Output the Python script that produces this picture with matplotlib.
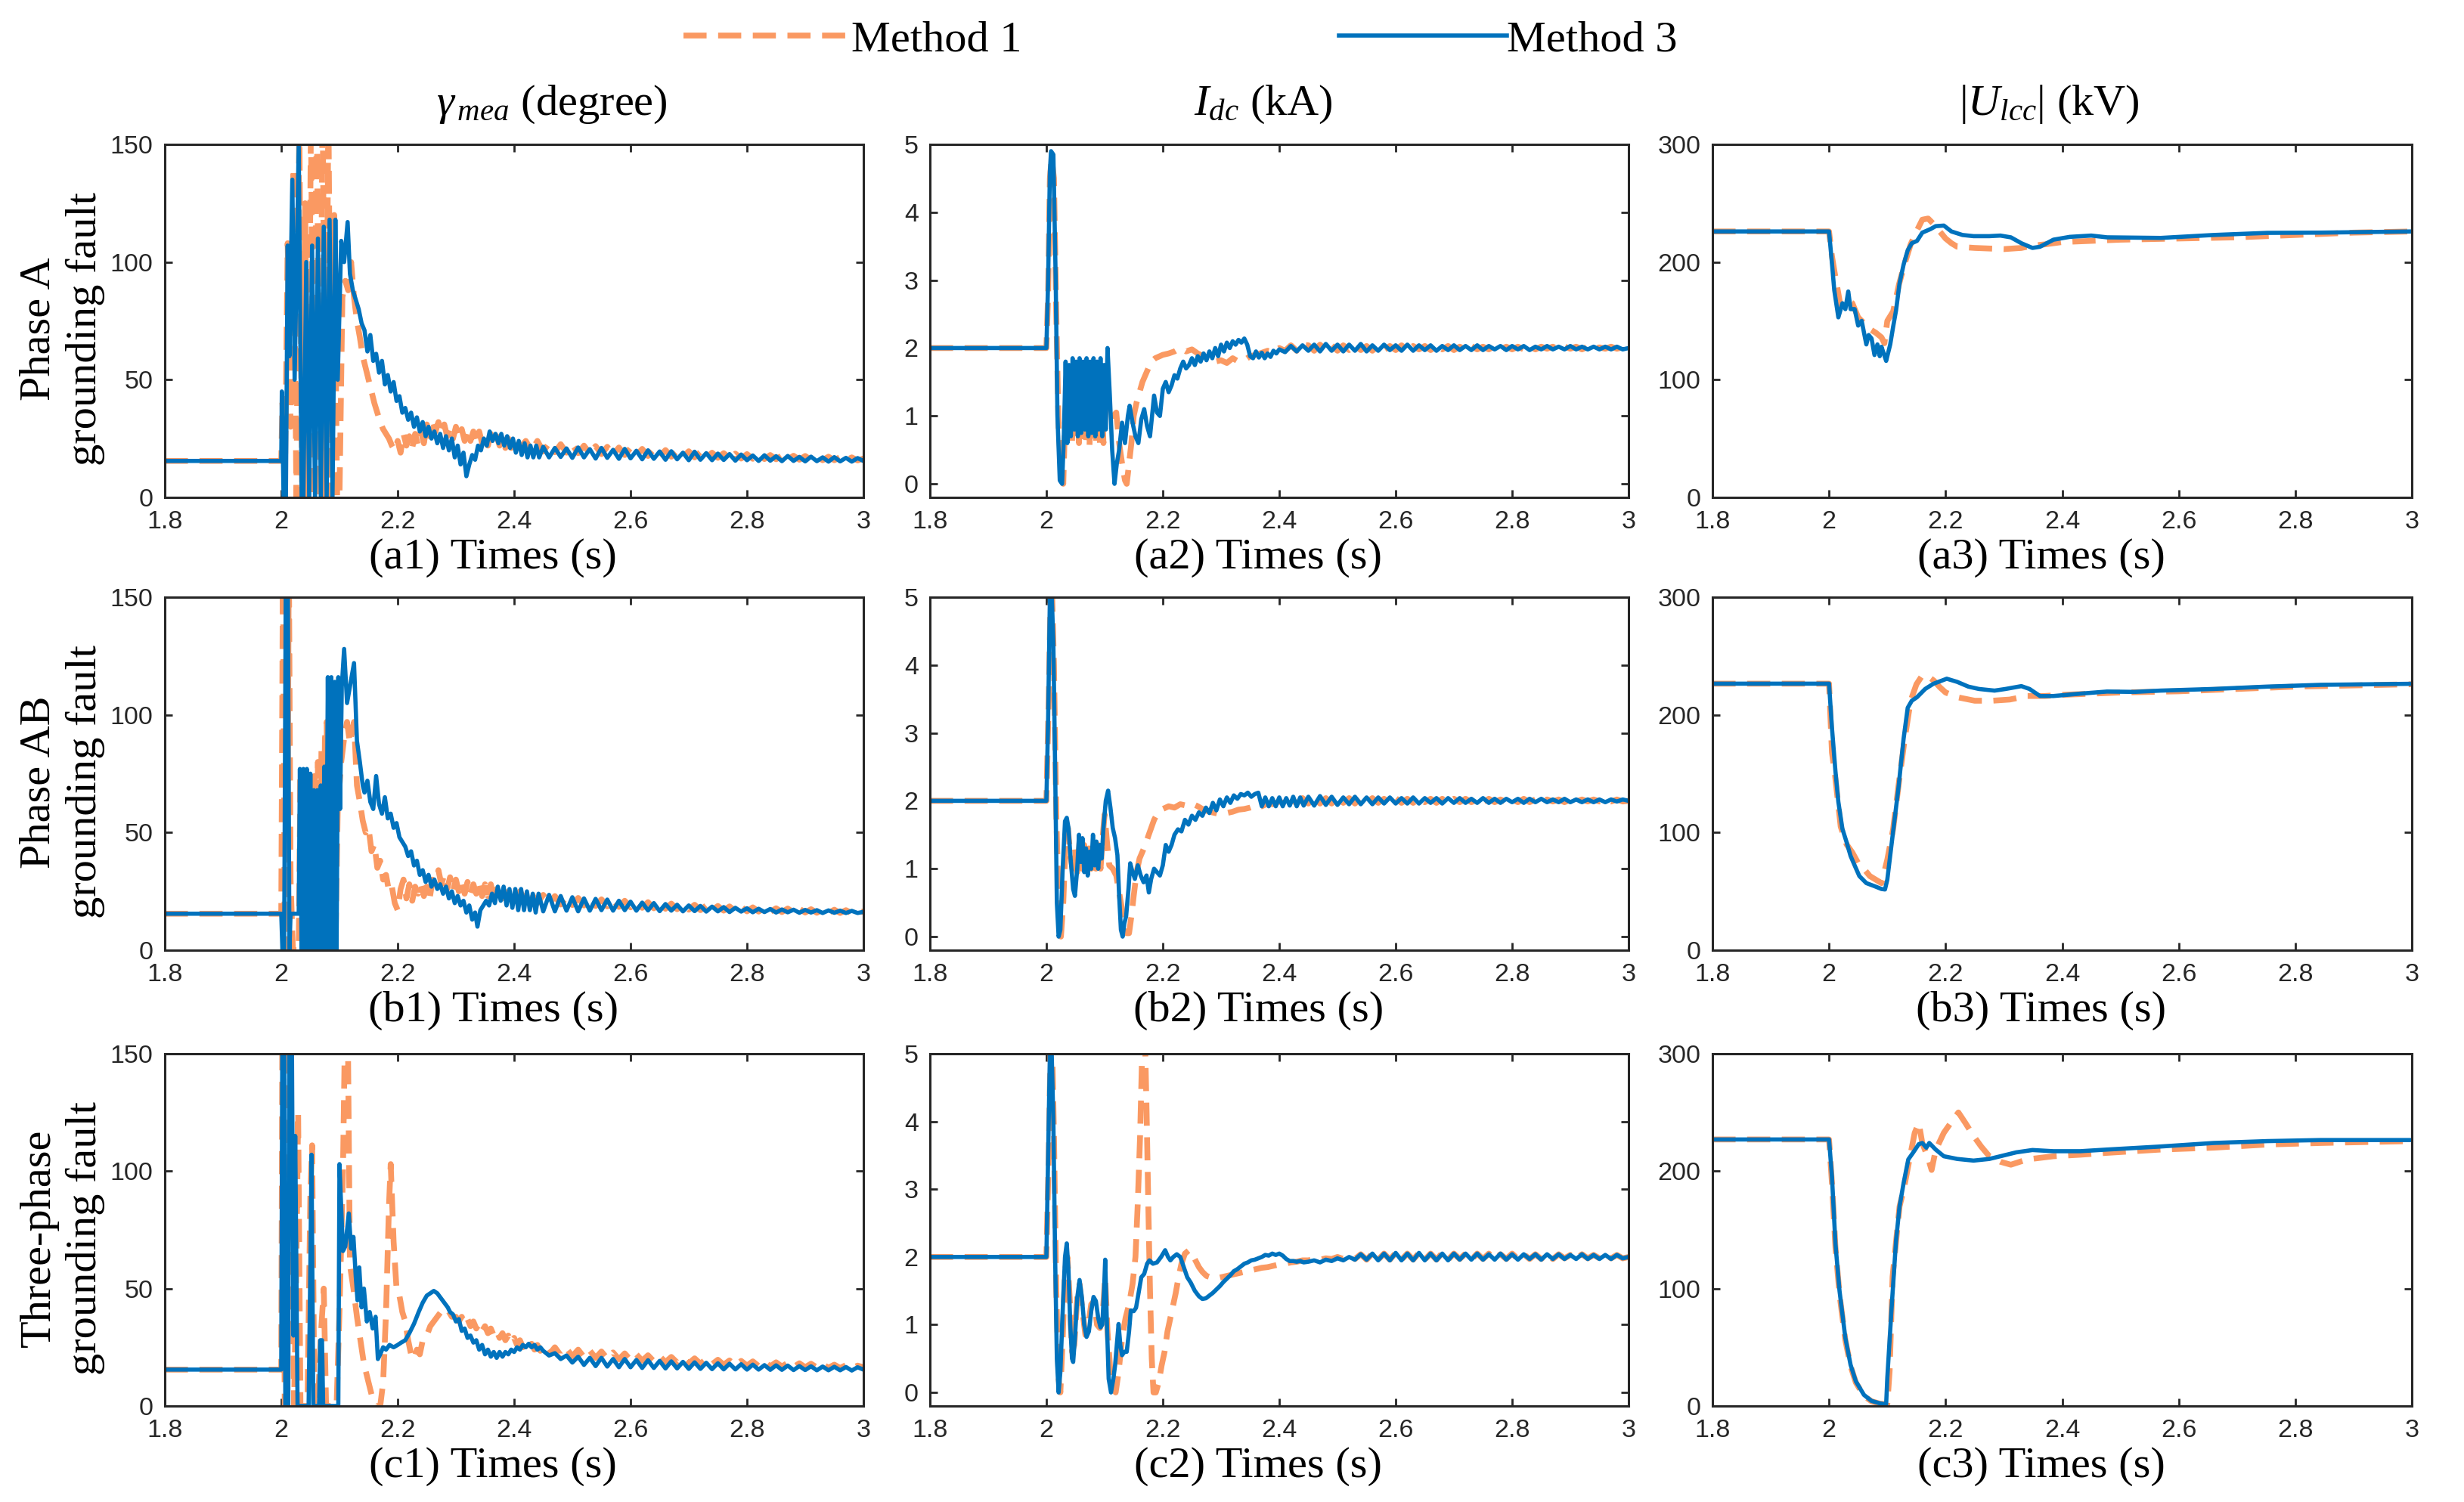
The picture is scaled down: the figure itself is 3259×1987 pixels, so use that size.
import numpy as np
import matplotlib
matplotlib.use('Agg')
import matplotlib.pyplot as plt

# =============================================================================
# DATA
# =============================================================================
T_TAIL = [2.45, 2.46, 2.47, 2.48, 2.49, 2.50, 2.51, 2.52,
          2.53, 2.54, 2.55, 2.56, 2.57, 2.58, 2.59, 2.60,
          2.61, 2.62, 2.63, 2.64, 2.65, 2.66, 2.67, 2.68,
          2.69, 2.70, 2.71, 2.72, 2.73, 2.74, 2.75, 2.76,
          2.77, 2.78, 2.79, 2.80, 2.81, 2.82, 2.83, 2.84,
          2.85, 2.86, 2.87, 2.88, 2.89, 2.90, 2.91, 2.92,
          2.93, 2.94, 2.95, 2.96, 2.97, 2.98, 2.99, 3.00]

# ---- (a) Phase A grounding fault ----
A1_M1 = [(1.8, 15.5), (2.0, 15.5), (2.002, 40), (2.006, 0), (2.011, 108), (2.016, 30),
         (2.021, 140), (2.026, 0), (2.031, 160), (2.036, 0), (2.041, 125), (2.046, 0),
         (2.051, 160), (2.056, 0), (2.061, 170), (2.066, 0), (2.071, 170), (2.076, 0),
         (2.081, 165), (2.086, 0), (2.091, 120), (2.096, 0), (2.100, 0), (2.105, 85),
         (2.110, 92), (2.115, 88), (2.120, 100), (2.125, 85), (2.130, 75), (2.135, 68),
         (2.140, 60), (2.145, 55), (2.150, 50), (2.155, 45), (2.160, 40), (2.165, 36),
         (2.170, 32), (2.175, 29), (2.180, 27), (2.185, 25), (2.190, 22), (2.195, 20),
         (2.200, 24), (2.205, 19), (2.210, 27), (2.215, 22), (2.220, 26), (2.225, 21),
         (2.230, 27), (2.235, 22), (2.240, 28), (2.245, 23), (2.250, 31), (2.255, 26),
         (2.260, 33), (2.265, 28), (2.270, 32), (2.275, 27), (2.280, 31), (2.285, 26),
         (2.290, 30), (2.295, 25), (2.300, 30), (2.305, 25), (2.310, 29), (2.315, 24),
         (2.320, 29), (2.325, 24), (2.330, 28), (2.335, 23), (2.340, 28), (2.345, 23),
         (2.350, 27), (2.355, 22), (2.360, 27), (2.365, 22), (2.370, 26), (2.375, 22),
         (2.380, 26), (2.385, 21), (2.390, 25), (2.395, 21), (2.400, 25), (2.410, 21),
         (2.420, 24), (2.430, 20), (2.440, 24)]
A1_M1_TAIL = [19.5, 23.0, 19.2, 22.6, 19.0, 22.4, 18.8, 22.0,
              18.6, 21.8, 18.4, 21.5, 18.2, 21.2, 18.0, 21.0,
              17.8, 20.6, 17.6, 20.4, 17.5, 20.1, 17.3, 19.8,
              17.2, 19.6, 17.0, 19.3, 16.9, 19.0, 16.8, 18.8,
              16.6, 18.6, 16.5, 18.4, 16.4, 18.2, 16.3, 18.0,
              16.2, 17.8, 16.1, 17.7, 16.0, 17.6, 15.9, 17.4,
              15.8, 17.3, 15.8, 17.1, 15.7, 17.0, 15.7, 16.5]
A1_M3 = [(1.8, 15.5), (2.0, 15.5), (2.001, 45), (2.004, 0), (2.008, 0), (2.011, 107),
         (2.014, 60), (2.019, 135), (2.023, 50), (2.030, 150), (2.035, 0), (2.038, 0),
         (2.043, 100), (2.048, 0), (2.053, 107), (2.058, 0), (2.063, 110), (2.068, 0),
         (2.073, 115), (2.078, 0), (2.083, 118), (2.088, 0), (2.093, 118), (2.097, 50),
         (2.103, 109), (2.108, 100), (2.114, 117), (2.118, 95), (2.123, 88), (2.128, 84),
         (2.133, 80), (2.138, 74), (2.143, 71), (2.148, 62), (2.153, 69), (2.158, 58),
         (2.163, 61), (2.168, 53), (2.173, 58), (2.178, 48), (2.183, 52), (2.188, 45),
         (2.193, 49), (2.198, 41), (2.203, 43), (2.208, 36), (2.213, 38), (2.218, 33),
         (2.223, 36), (2.228, 30), (2.233, 34), (2.238, 28), (2.243, 32), (2.248, 26),
         (2.253, 30), (2.258, 25), (2.263, 28), (2.268, 23), (2.273, 27), (2.278, 21),
         (2.283, 26), (2.288, 20), (2.293, 25), (2.298, 17), (2.303, 22), (2.308, 14),
         (2.313, 19), (2.318, 9), (2.323, 14), (2.328, 18), (2.333, 16), (2.338, 22),
         (2.343, 20), (2.348, 25), (2.353, 22), (2.358, 28), (2.363, 24), (2.368, 27),
         (2.373, 23), (2.378, 27), (2.383, 22), (2.388, 26), (2.393, 21), (2.398, 25),
         (2.403, 19), (2.408, 24), (2.413, 18), (2.418, 23), (2.423, 17), (2.428, 22),
         (2.433, 17), (2.438, 22), (2.443, 17)]
A1_M3_TAIL = [21.5, 17.0, 21.0, 17.2, 20.8, 16.8, 21.2, 17.0,
              20.5, 16.5, 21.0, 16.8, 20.2, 16.4, 20.6, 16.6,
              19.8, 16.2, 20.0, 16.4, 19.5, 16.0, 19.6, 16.2,
              19.0, 15.8, 19.4, 16.0, 18.8, 15.8, 18.6, 15.9,
              18.4, 15.6, 18.2, 15.8, 17.8, 15.5, 17.9, 15.6,
              17.5, 15.4, 17.6, 15.5, 17.2, 15.3, 17.3, 15.4,
              17.0, 15.2, 17.1, 15.3, 16.8, 15.2, 16.7, 15.5]

A2_M1 = [(1.8, 2.0), (2.0, 2.0), (2.003, 2.8), (2.006, 4.5), (2.009, 4.8), (2.013, 4.5),
         (2.017, 2.5), (2.021, 0.8), (2.025, 0.3), (2.029, 0.0), (2.032, 0.9), (2.035, 1.4),
         (2.038, 0.7), (2.041, 1.3), (2.044, 0.6), (2.047, 1.35), (2.050, 0.65), (2.053, 1.3),
         (2.056, 0.6), (2.059, 1.4), (2.062, 0.7), (2.065, 1.3), (2.068, 0.6), (2.071, 1.35),
         (2.074, 0.55), (2.077, 1.3), (2.080, 0.6), (2.083, 1.35), (2.086, 0.55), (2.089, 1.3),
         (2.092, 0.6), (2.095, 1.35), (2.098, 0.6), (2.102, 1.1), (2.106, 1.05), (2.110, 1.1),
         (2.115, 1.0), (2.120, 1.05), (2.125, 0.6), (2.130, 0.3), (2.135, 0.05), (2.138, 0.0),
         (2.142, 0.3), (2.146, 0.6), (2.150, 1.0), (2.155, 1.2), (2.160, 1.35), (2.165, 1.5),
         (2.170, 1.6), (2.175, 1.7), (2.180, 1.8), (2.187, 1.85), (2.195, 1.88), (2.200, 1.9),
         (2.210, 1.92), (2.220, 1.95), (2.230, 2.0), (2.240, 1.95), (2.250, 1.98), (2.260, 1.92),
         (2.270, 1.88), (2.280, 1.84), (2.290, 1.80), (2.300, 1.82), (2.310, 1.78), (2.320, 1.85),
         (2.330, 1.80), (2.340, 1.82), (2.350, 1.88), (2.360, 1.90), (2.370, 1.93), (2.380, 1.96),
         (2.390, 1.94), (2.400, 2.0), (2.410, 1.96), (2.420, 2.04), (2.430, 1.96), (2.440, 2.05)]
A2_M1_TAIL = [2.04, 1.96, 2.05, 1.97, 2.04, 1.96, 2.04, 1.97,
              2.04, 1.97, 2.03, 1.96, 2.04, 1.97, 2.03, 1.97,
              2.04, 1.97, 2.03, 1.98, 2.03, 1.97, 2.03, 1.98,
              2.03, 1.97, 2.02, 1.98, 2.03, 1.98, 2.02, 1.98,
              2.03, 1.98, 2.02, 1.98, 2.02, 1.98, 2.03, 1.98,
              2.02, 1.99, 2.02, 1.98, 2.02, 1.99, 2.02, 1.98,
              2.02, 1.99, 2.01, 1.99, 2.02, 1.99, 2.01, 2.00]
A2_M3 = [(1.8, 2.0), (2.0, 2.0), (2.003, 3.0), (2.006, 4.6), (2.008, 4.9), (2.012, 4.85),
         (2.016, 3.0), (2.019, 1.0), (2.023, 0.05), (2.027, 0.0), (2.030, 0.7), (2.033, 1.8),
         (2.036, 0.6), (2.039, 1.75), (2.042, 0.7), (2.045, 1.85), (2.048, 0.8), (2.051, 1.8),
         (2.054, 0.7), (2.057, 1.85), (2.060, 0.75), (2.063, 1.8), (2.066, 0.8), (2.069, 1.85),
         (2.072, 0.7), (2.075, 1.8), (2.078, 0.75), (2.081, 1.85), (2.084, 0.7), (2.087, 1.8),
         (2.090, 0.8), (2.093, 1.85), (2.096, 0.7), (2.099, 1.75), (2.102, 0.8), (2.105, 2.0),
         (2.109, 1.3), (2.113, 0.5), (2.117, 0.0), (2.121, 0.3), (2.125, 0.5), (2.130, 0.9),
         (2.135, 0.6), (2.140, 1.0), (2.143, 1.15), (2.148, 0.9), (2.153, 0.7), (2.158, 0.6),
         (2.163, 0.95), (2.168, 1.1), (2.173, 0.85), (2.178, 0.7), (2.185, 1.3), (2.190, 1.05),
         (2.195, 1.0), (2.200, 1.4), (2.205, 1.5), (2.210, 1.35), (2.215, 1.45), (2.220, 1.6),
         (2.225, 1.55), (2.230, 1.7), (2.235, 1.8), (2.240, 1.7), (2.245, 1.75), (2.250, 1.85),
         (2.255, 1.75), (2.260, 1.88), (2.265, 1.8), (2.270, 1.92), (2.275, 1.82), (2.280, 1.95),
         (2.285, 1.85), (2.290, 2.0), (2.295, 1.88), (2.300, 2.05), (2.305, 1.95), (2.310, 2.08),
         (2.315, 2.0), (2.320, 2.1), (2.325, 2.05), (2.330, 2.12), (2.335, 2.08), (2.340, 2.14),
         (2.345, 2.05), (2.350, 1.88), (2.355, 1.85), (2.360, 1.95), (2.365, 1.86), (2.370, 1.93),
         (2.375, 1.85), (2.380, 1.92), (2.385, 1.87), (2.390, 1.96), (2.395, 1.92), (2.400, 1.98),
         (2.410, 1.94), (2.420, 2.03), (2.430, 1.95), (2.440, 2.04)]
A2_M3_TAIL = [1.96, 2.05, 1.95, 2.06, 1.96, 2.05, 1.95, 2.05,
              1.96, 2.06, 1.95, 2.04, 1.96, 2.05, 1.97, 2.04,
              1.96, 2.05, 1.96, 2.04, 1.97, 2.04, 1.96, 2.03,
              1.97, 2.04, 1.97, 2.03, 1.97, 2.04, 1.97, 2.03,
              1.98, 2.03, 1.97, 2.03, 1.98, 2.03, 1.97, 2.02,
              1.98, 2.03, 1.98, 2.02, 1.98, 2.03, 1.98, 2.02,
              1.98, 2.02, 1.98, 2.02, 1.98, 2.02, 1.98, 2.00]

A3_M1 = [(1.8, 226), (2.0, 226), (2.005, 205), (2.01, 190), (2.02, 162), (2.03, 168),
         (2.04, 165), (2.05, 153), (2.06, 148), (2.07, 143), (2.08, 140), (2.09, 136),
         (2.095, 131), (2.1, 150), (2.11, 158), (2.12, 181), (2.13, 199), (2.14, 215),
         (2.15, 226), (2.16, 236), (2.17, 237), (2.18, 232), (2.19, 226), (2.2, 220),
         (2.21, 216), (2.22, 213), (2.25, 212), (2.3, 211), (2.33, 212), (2.35, 214),
         (2.37, 215), (2.4, 217), (2.45, 218), (2.5, 219), (2.6, 220), (2.7, 221),
         (2.8, 223), (2.9, 225), (3.0, 226)]
A3_M3 = [(1.8, 226), (2.0, 226), (2.005, 199), (2.009, 176), (2.016, 153), (2.023, 165),
         (2.028, 160), (2.033, 175), (2.037, 160), (2.044, 160), (2.05, 146), (2.056, 150),
         (2.06, 140), (2.064, 130), (2.068, 138), (2.073, 135), (2.078, 121), (2.083, 130),
         (2.087, 120), (2.09, 128), (2.094, 122), (2.098, 116), (2.105, 130), (2.11, 145),
         (2.115, 159), (2.121, 182), (2.128, 198), (2.135, 210), (2.142, 216), (2.151, 218),
         (2.16, 225), (2.174, 228), (2.183, 230.5), (2.197, 231), (2.21, 226), (2.229, 223),
         (2.248, 222), (2.275, 222), (2.294, 222.5), (2.312, 221), (2.33, 216), (2.349, 212),
         (2.362, 213), (2.385, 219), (2.413, 221.4), (2.45, 222.5), (2.477, 221),
         (2.569, 220.5), (2.66, 223), (2.752, 224.8), (2.844, 225), (3.0, 226)]

# ---- (b) Phase AB grounding fault ----
B1_M1 = [(1.8, 15.5), (2.0, 15.5), (2.003, 170), (2.006, 0), (2.010, 0), (2.013, 170),
         (2.016, 30), (2.020, 0), (2.030, 0), (2.033, 75), (2.036, 0), (2.039, 72),
         (2.042, 0), (2.045, 70), (2.048, 0), (2.051, 72), (2.054, 0), (2.057, 74),
         (2.060, 0), (2.063, 80), (2.066, 0), (2.069, 85), (2.072, 0), (2.075, 90),
         (2.078, 97), (2.081, 0), (2.085, 80), (2.089, 0), (2.093, 0), (2.097, 60),
         (2.103, 80), (2.108, 90), (2.113, 97), (2.118, 88), (2.125, 97), (2.130, 70),
         (2.135, 63), (2.140, 55), (2.145, 50), (2.150, 52), (2.155, 42), (2.160, 45),
         (2.165, 35), (2.170, 38), (2.175, 30), (2.180, 32), (2.185, 25), (2.190, 27),
         (2.195, 20), (2.200, 17), (2.205, 26), (2.210, 30), (2.215, 22), (2.220, 28),
         (2.225, 21), (2.230, 27), (2.235, 24), (2.240, 28), (2.245, 23), (2.250, 27),
         (2.255, 22), (2.260, 30), (2.265, 28), (2.270, 34), (2.275, 28), (2.280, 32),
         (2.285, 26), (2.290, 31), (2.295, 25), (2.300, 30), (2.305, 25), (2.310, 29),
         (2.315, 24), (2.320, 29), (2.325, 24), (2.330, 28), (2.335, 24), (2.340, 29),
         (2.345, 23), (2.350, 28), (2.355, 23), (2.360, 28), (2.365, 22), (2.370, 26),
         (2.380, 22), (2.390, 26), (2.400, 21), (2.410, 25), (2.420, 21), (2.430, 24),
         (2.440, 20)]
B1_M1_TAIL = [23.5, 19.5, 23.0, 19.4, 22.6, 19.2, 22.2, 19.0,
              22.0, 18.8, 21.6, 18.6, 21.3, 18.4, 21.0, 18.2,
              20.7, 18.0, 20.4, 17.8, 20.1, 17.6, 19.8, 17.4,
              19.6, 17.2, 19.3, 17.0, 19.0, 16.9, 18.8, 16.8,
              18.6, 16.6, 18.4, 16.5, 18.2, 16.4, 18.0, 16.3,
              17.8, 16.2, 17.7, 16.1, 17.6, 16.0, 17.4, 15.9,
              17.3, 15.8, 17.2, 15.8, 17.0, 15.7, 16.9, 16.2]
B1_M3 = [(1.8, 15.5), (2.0, 15.5), (2.002, 0), (2.005, 0), (2.008, 170), (2.011, 170),
         (2.014, 0), (2.016, 15.5), (2.030, 15.5), (2.032, 77), (2.035, 0), (2.038, 77),
         (2.041, 0), (2.044, 77), (2.047, 0), (2.050, 75), (2.053, 0), (2.056, 68),
         (2.059, 0), (2.062, 68), (2.065, 0), (2.068, 70), (2.071, 0), (2.074, 78),
         (2.077, 0), (2.080, 116), (2.083, 0), (2.086, 116), (2.089, 0), (2.092, 114),
         (2.095, 0), (2.098, 116), (2.101, 60), (2.104, 112), (2.108, 128), (2.113, 105),
         (2.118, 112), (2.125, 122), (2.130, 89), (2.135, 80), (2.140, 70), (2.143, 67),
         (2.148, 72), (2.153, 63), (2.158, 60), (2.163, 74), (2.168, 62), (2.173, 58),
         (2.178, 65), (2.183, 56), (2.188, 58), (2.193, 52), (2.198, 54), (2.203, 48),
         (2.208, 46), (2.213, 44), (2.218, 40), (2.223, 42), (2.228, 36), (2.233, 38),
         (2.238, 32), (2.243, 34), (2.248, 29), (2.253, 32), (2.258, 27), (2.263, 30),
         (2.268, 26), (2.273, 28), (2.278, 24), (2.283, 27), (2.288, 22), (2.293, 25),
         (2.298, 20), (2.303, 23), (2.308, 19), (2.313, 21), (2.318, 16), (2.323, 19),
         (2.328, 13), (2.333, 16), (2.337, 10), (2.342, 17), (2.347, 19), (2.352, 21),
         (2.357, 19), (2.362, 24), (2.367, 20), (2.372, 27), (2.377, 21), (2.382, 27),
         (2.387, 19), (2.392, 26), (2.397, 18), (2.402, 26), (2.407, 17), (2.412, 26),
         (2.417, 17), (2.422, 25), (2.427, 17), (2.432, 24), (2.437, 16), (2.442, 24)]
B1_M3_TAIL = [16.5, 23.5, 16.5, 23.0, 16.8, 22.5, 16.5, 22.0,
              16.8, 21.8, 17.0, 21.5, 16.8, 21.0, 17.0, 20.6,
              16.8, 20.2, 16.9, 20.0, 16.6, 19.6, 16.8, 19.3,
              16.5, 19.0, 16.6, 18.8, 16.4, 18.5, 16.5, 18.3,
              16.2, 18.0, 16.4, 17.8, 16.1, 17.6, 16.2, 17.5,
              16.0, 17.3, 16.1, 17.2, 15.9, 17.1, 16.0, 17.0,
              15.8, 16.9, 15.9, 16.8, 15.8, 16.7, 15.8, 16.3]

B2_M1 = [(1.8, 2.0), (2.0, 2.0), (2.004, 3.5), (2.007, 4.9), (2.010, 5.0), (2.013, 4.0),
         (2.017, 1.8), (2.021, 0.5), (2.025, 0.0), (2.029, 0.5), (2.033, 1.4), (2.037, 1.6),
         (2.041, 1.2), (2.045, 1.0), (2.049, 1.3), (2.053, 0.95), (2.057, 1.4), (2.061, 1.0),
         (2.065, 1.35), (2.069, 0.95), (2.073, 1.3), (2.077, 1.0), (2.081, 1.4), (2.085, 1.0),
         (2.089, 1.35), (2.093, 1.0), (2.097, 1.5), (2.100, 1.8), (2.104, 1.4), (2.108, 1.05),
         (2.114, 1.0), (2.120, 0.9), (2.126, 0.6), (2.132, 0.3), (2.138, 0.05), (2.142, 0.05),
         (2.146, 0.3), (2.150, 0.6), (2.155, 0.95), (2.160, 1.15), (2.165, 1.25), (2.170, 1.35),
         (2.175, 1.48), (2.180, 1.6), (2.185, 1.72), (2.190, 1.8), (2.195, 1.85), (2.200, 1.88),
         (2.210, 1.92), (2.220, 1.9), (2.230, 1.95), (2.240, 1.93), (2.250, 1.96), (2.260, 1.92),
         (2.270, 1.87), (2.280, 1.84), (2.290, 1.82), (2.300, 1.8), (2.310, 1.82), (2.320, 1.84),
         (2.330, 1.87), (2.340, 1.88), (2.350, 1.9), (2.360, 1.93), (2.370, 1.92), (2.380, 1.96),
         (2.390, 1.95), (2.400, 1.99), (2.410, 1.96), (2.420, 2.03), (2.430, 1.96), (2.440, 2.04)]
B2_M1_TAIL = [1.96, 2.05, 1.96, 2.04, 1.96, 2.05, 1.97, 2.04,
              1.96, 2.04, 1.97, 2.04, 1.97, 2.03, 1.97, 2.04,
              1.97, 2.03, 1.97, 2.03, 1.98, 2.03, 1.97, 2.03,
              1.98, 2.03, 1.98, 2.03, 1.98, 2.02, 1.98, 2.03,
              1.98, 2.02, 1.98, 2.02, 1.98, 2.03, 1.98, 2.02,
              1.98, 2.02, 1.99, 2.02, 1.98, 2.02, 1.99, 2.02,
              1.99, 2.02, 1.99, 2.01, 1.99, 2.02, 1.99, 2.00]
B2_M3 = [(1.8, 2.0), (2.0, 2.0), (2.003, 3.2), (2.006, 5.0), (2.009, 5.1), (2.012, 4.3),
         (2.015, 2.5), (2.018, 0.5), (2.021, 0.0), (2.024, 0.1), (2.028, 1.0), (2.032, 1.7),
         (2.035, 1.75), (2.038, 1.6), (2.042, 1.1), (2.046, 0.7), (2.049, 0.6), (2.053, 1.0),
         (2.056, 1.5), (2.059, 1.1), (2.062, 1.45), (2.065, 0.95), (2.068, 1.3), (2.071, 0.9),
         (2.074, 1.25), (2.077, 1.0), (2.080, 1.5), (2.083, 1.05), (2.086, 1.4), (2.089, 1.0),
         (2.092, 1.35), (2.095, 1.15), (2.098, 1.6), (2.102, 2.0), (2.106, 2.15), (2.110, 1.9),
         (2.114, 1.6), (2.118, 1.45), (2.122, 1.2), (2.125, 0.6), (2.128, 0.1), (2.131, 0.0),
         (2.134, 0.2), (2.137, 0.3), (2.141, 0.7), (2.144, 1.08), (2.148, 0.95), (2.152, 0.85),
         (2.157, 1.05), (2.162, 0.9), (2.167, 0.8), (2.172, 0.9), (2.176, 0.65), (2.180, 0.85),
         (2.185, 1.0), (2.190, 0.95), (2.195, 0.9), (2.200, 1.05), (2.205, 1.35), (2.210, 1.25),
         (2.215, 1.35), (2.220, 1.5), (2.226, 1.58), (2.232, 1.55), (2.238, 1.72), (2.244, 1.65),
         (2.250, 1.78), (2.256, 1.72), (2.262, 1.83), (2.268, 1.78), (2.274, 1.9), (2.280, 1.82),
         (2.286, 1.97), (2.292, 1.86), (2.298, 2.02), (2.304, 1.92), (2.310, 2.05), (2.316, 1.97),
         (2.322, 2.08), (2.328, 2.03), (2.334, 2.1), (2.340, 2.08), (2.346, 2.12), (2.352, 2.06),
         (2.358, 2.1), (2.364, 2.12), (2.370, 1.92), (2.376, 2.05), (2.382, 1.92), (2.388, 2.04),
         (2.394, 1.92), (2.400, 2.05), (2.406, 1.92), (2.412, 2.04), (2.418, 1.93), (2.424, 2.06),
         (2.430, 1.92), (2.436, 2.05), (2.442, 1.93)]
B2_M3_TAIL = [2.06, 1.93, 2.07, 1.94, 2.06, 1.94, 2.05, 1.95,
              2.06, 1.95, 2.05, 1.95, 2.05, 1.96, 2.05, 1.96,
              2.04, 1.96, 2.05, 1.96, 2.04, 1.97, 2.04, 1.96,
              2.04, 1.97, 2.04, 1.97, 2.03, 1.97, 2.04, 1.97,
              2.03, 1.97, 2.03, 1.98, 2.03, 1.97, 2.03, 1.98,
              2.03, 1.98, 2.02, 1.98, 2.03, 1.98, 2.02, 1.98,
              2.02, 1.98, 2.02, 1.98, 2.02, 1.99, 2.02, 2.00]

B3_M1 = [(1.8, 226.5), (2.0, 226.5), (2.005, 168), (2.01, 150), (2.02, 105), (2.03, 90),
         (2.04, 83), (2.05, 74), (2.06, 69), (2.07, 63), (2.08, 60), (2.09, 57),
         (2.1, 77), (2.11, 103), (2.12, 143), (2.13, 180), (2.14, 212), (2.15, 226),
         (2.16, 233.5), (2.17, 232.7), (2.18, 229), (2.19, 223.5), (2.2, 219), (2.22, 215),
         (2.25, 212), (2.28, 212), (2.31, 213), (2.34, 216), (2.37, 216), (2.4, 217),
         (2.45, 218), (2.5, 219), (2.6, 220), (2.7, 222), (2.8, 224), (2.9, 225), (3.0, 226)]
B3_M3 = [(1.8, 226.5), (2.0, 226.5), (2.005, 189), (2.011, 152), (2.016, 126), (2.023, 103),
         (2.03, 92), (2.037, 80), (2.044, 72), (2.052, 63), (2.064, 57), (2.078, 54.4),
         (2.09, 52), (2.096, 51.6), (2.1, 60), (2.109, 97), (2.119, 137.5), (2.128, 180),
         (2.135, 206), (2.142, 212), (2.151, 215), (2.165, 222), (2.179, 226.4), (2.193, 229),
         (2.202, 230.7), (2.22, 228), (2.239, 224), (2.257, 222), (2.284, 220.6), (2.303, 222),
         (2.33, 224.4), (2.344, 222), (2.362, 216), (2.385, 216), (2.431, 218), (2.477, 219.8),
         (2.523, 219.5), (2.569, 220.6), (2.66, 222), (2.752, 224), (2.844, 225.5), (3.0, 226.4)]

# ---- (c) Three-phase grounding fault ----
C1_M1 = [(1.8, 15.5), (2.0, 15.5), (2.002, 170), (2.006, 0), (2.009, 0), (2.013, 170),
         (2.018, 100), (2.022, 0), (2.026, 60), (2.029, 125), (2.033, 0), (2.045, 0),
         (2.050, 90), (2.053, 111), (2.057, 0), (2.063, 0), (2.068, 30), (2.073, 50),
         (2.077, 0), (2.095, 0), (2.100, 40), (2.106, 100), (2.110, 170), (2.114, 170),
         (2.118, 60), (2.124, 50), (2.130, 38), (2.136, 28), (2.142, 18), (2.148, 12),
         (2.155, 5), (2.162, 0), (2.170, 0), (2.175, 10), (2.180, 40), (2.185, 85),
         (2.188, 103), (2.193, 70), (2.198, 50), (2.203, 47), (2.208, 40), (2.213, 36),
         (2.218, 28), (2.223, 22), (2.228, 20), (2.233, 24), (2.238, 22), (2.243, 28),
         (2.250, 30), (2.256, 34), (2.262, 36), (2.268, 38), (2.274, 40), (2.280, 39),
         (2.287, 40.5), (2.293, 38), (2.300, 38), (2.305, 36), (2.310, 38), (2.315, 35),
         (2.320, 37), (2.325, 34), (2.330, 36), (2.335, 33), (2.340, 35), (2.345, 32),
         (2.350, 34), (2.355, 31), (2.360, 33), (2.365, 30), (2.370, 32), (2.375, 29),
         (2.380, 31), (2.385, 28), (2.390, 30), (2.395, 27), (2.400, 29), (2.405, 26),
         (2.410, 28), (2.415, 25), (2.420, 27), (2.425, 24.5), (2.430, 26.5), (2.435, 24),
         (2.440, 26), (2.445, 23.5)]
C1_M1_TAIL = [25.5, 22.0, 25.0, 21.6, 24.5, 21.2, 24.0, 20.8,
              23.6, 20.5, 23.2, 20.2, 22.8, 19.9, 22.4, 19.6,
              22.0, 19.3, 21.6, 19.0, 21.2, 18.7, 20.9, 18.5,
              20.6, 18.2, 20.3, 18.0, 20.0, 17.8, 19.7, 17.6,
              19.4, 17.4, 19.2, 17.2, 19.0, 17.0, 18.8, 16.9,
              18.6, 16.8, 18.4, 16.6, 18.2, 16.5, 18.0, 16.4,
              17.8, 16.3, 17.6, 16.2, 17.4, 16.1, 17.2, 16.5]
C1_M3 = [(1.8, 15.5), (2.0, 15.5), (2.002, 170), (2.005, 170), (2.007, 0), (2.012, 0),
         (2.014, 170), (2.018, 170), (2.021, 30), (2.024, 115), (2.028, 0), (2.047, 0),
         (2.050, 60), (2.052, 107), (2.055, 0), (2.065, 0), (2.067, 28), (2.070, 28),
         (2.072, 0), (2.098, 0), (2.100, 103), (2.106, 66), (2.110, 68), (2.116, 82),
         (2.120, 67), (2.124, 72), (2.128, 55), (2.131, 45), (2.134, 59), (2.138, 42),
         (2.142, 50), (2.147, 36), (2.152, 40), (2.157, 33), (2.162, 38), (2.166, 20),
         (2.170, 22), (2.175, 25), (2.180, 24), (2.186, 26), (2.193, 25), (2.200, 26),
         (2.206, 27), (2.213, 28), (2.220, 31), (2.228, 35), (2.236, 40), (2.243, 44),
         (2.250, 47), (2.256, 48), (2.262, 49), (2.268, 48), (2.274, 46), (2.280, 44),
         (2.286, 42), (2.290, 40), (2.295, 39), (2.300, 36), (2.305, 37), (2.310, 32),
         (2.315, 33), (2.320, 29), (2.325, 30), (2.330, 27), (2.335, 28), (2.340, 24),
         (2.345, 26), (2.350, 22), (2.355, 24), (2.360, 21), (2.365, 23), (2.370, 20.5),
         (2.375, 23), (2.380, 21), (2.385, 23), (2.390, 22), (2.395, 24), (2.400, 23),
         (2.405, 25), (2.410, 24), (2.415, 26), (2.420, 25), (2.425, 26.5), (2.430, 25),
         (2.435, 26), (2.440, 24), (2.445, 25)]
C1_M3_TAIL = [23.5, 21.5, 22.5, 20.0, 21.5, 18.5, 21.0, 17.5,
              20.5, 17.0, 20.5, 16.8, 20.0, 16.5, 20.0, 16.5,
              19.6, 16.2, 19.5, 16.2, 19.2, 16.0, 19.0, 16.0,
              18.8, 15.8, 18.6, 15.8, 18.4, 15.7, 18.2, 15.6,
              18.0, 15.6, 17.8, 15.5, 17.6, 15.5, 17.4, 15.4,
              17.3, 15.4, 17.2, 15.3, 17.0, 15.3, 16.9, 15.2,
              16.8, 15.2, 16.7, 15.2, 16.6, 15.1, 16.5, 15.5]

C2_M1 = [(1.8, 2.0), (2.0, 2.0), (2.004, 3.5), (2.007, 5.0), (2.010, 5.1), (2.013, 3.8),
         (2.017, 1.5), (2.021, 0.2), (2.024, 0.0), (2.028, 0.8), (2.032, 1.8), (2.036, 2.0),
         (2.040, 1.4), (2.044, 0.6), (2.048, 0.7), (2.053, 1.4), (2.057, 1.6), (2.062, 1.2),
         (2.067, 0.85), (2.072, 1.0), (2.077, 1.3), (2.082, 1.35), (2.087, 1.0), (2.092, 0.95),
         (2.097, 1.2), (2.101, 1.7), (2.105, 0.9), (2.110, 0.3), (2.115, 0.05), (2.119, 0.0),
         (2.124, 0.3), (2.130, 0.8), (2.136, 1.1), (2.142, 1.3), (2.148, 1.6), (2.153, 2.0),
         (2.157, 2.8), (2.161, 3.8), (2.165, 5.2), (2.169, 5.4), (2.172, 4.2), (2.175, 2.8),
         (2.178, 1.5), (2.181, 0.5), (2.184, 0.0), (2.188, 0.0), (2.193, 0.15), (2.198, 0.4),
         (2.203, 0.6), (2.208, 0.9), (2.213, 1.1), (2.218, 1.3), (2.222, 1.46), (2.227, 1.7),
         (2.232, 1.9), (2.238, 2.05), (2.245, 2.1), (2.250, 2.05), (2.256, 1.95), (2.262, 1.85),
         (2.268, 1.78), (2.275, 1.72), (2.282, 1.7), (2.290, 1.68), (2.300, 1.7), (2.310, 1.72),
         (2.320, 1.74), (2.330, 1.76), (2.340, 1.78), (2.350, 1.8), (2.360, 1.82), (2.370, 1.84),
         (2.380, 1.85), (2.390, 1.87), (2.400, 1.89), (2.410, 1.9), (2.420, 1.92), (2.430, 1.93),
         (2.440, 1.95)]
C2_M1_TAIL = [1.95, 1.97, 1.96, 1.98, 1.97, 2.00, 1.97, 2.02,
              1.97, 2.04, 1.96, 2.05, 1.96, 2.05, 1.96, 2.06,
              1.96, 2.05, 1.96, 2.06, 1.96, 2.05, 1.96, 2.06,
              1.96, 2.05, 1.97, 2.05, 1.96, 2.05, 1.97, 2.05,
              1.97, 2.04, 1.97, 2.05, 1.97, 2.04, 1.97, 2.04,
              1.97, 2.04, 1.97, 2.04, 1.98, 2.03, 1.97, 2.04,
              1.98, 2.03, 1.98, 2.03, 1.98, 2.03, 1.98, 2.00]
C2_M3 = [(1.8, 2.0), (2.0, 2.0), (2.003, 3.5), (2.006, 5.0), (2.009, 5.05), (2.012, 4.0),
         (2.015, 2.0), (2.018, 0.5), (2.021, 0.0), (2.024, 0.3), (2.028, 1.2), (2.032, 2.0),
         (2.035, 2.2), (2.038, 1.8), (2.041, 1.0), (2.044, 0.5), (2.046, 0.45), (2.049, 0.8),
         (2.053, 1.4), (2.057, 1.66), (2.061, 1.4), (2.065, 1.0), (2.069, 0.82), (2.073, 0.9),
         (2.077, 1.2), (2.081, 1.41), (2.085, 1.35), (2.089, 1.1), (2.093, 0.96), (2.096, 1.0),
         (2.099, 1.5), (2.101, 1.96), (2.104, 1.0), (2.107, 0.2), (2.111, 0.0), (2.115, 0.2),
         (2.118, 0.4), (2.121, 0.7), (2.124, 1.01), (2.127, 0.7), (2.130, 0.55), (2.134, 0.6),
         (2.138, 0.6), (2.142, 0.9), (2.145, 1.21), (2.150, 1.2), (2.154, 1.25), (2.158, 1.45),
         (2.163, 1.7), (2.168, 1.75), (2.173, 1.9), (2.177, 1.95), (2.183, 1.9), (2.190, 1.92),
         (2.197, 2.0), (2.204, 2.1), (2.209, 2.0), (2.213, 1.95), (2.218, 2.0), (2.224, 2.04),
         (2.230, 2.0), (2.236, 1.85), (2.242, 1.7), (2.248, 1.62), (2.255, 1.5), (2.262, 1.42),
         (2.268, 1.38), (2.274, 1.39), (2.280, 1.43), (2.286, 1.47), (2.292, 1.52), (2.298, 1.57),
         (2.304, 1.63), (2.310, 1.68), (2.316, 1.73), (2.322, 1.79), (2.328, 1.82), (2.334, 1.86),
         (2.340, 1.9), (2.346, 1.92), (2.352, 1.95), (2.358, 1.96), (2.364, 1.98), (2.370, 2.0),
         (2.376, 2.03), (2.382, 2.02), (2.388, 2.05), (2.394, 2.03), (2.400, 2.05), (2.406, 2.02),
         (2.412, 1.97), (2.418, 1.94), (2.424, 1.94), (2.430, 1.93), (2.436, 1.94), (2.442, 1.92)]
C2_M3_TAIL = [1.93, 1.95, 1.92, 1.96, 1.94, 1.98, 1.95, 2.00,
              1.96, 2.04, 1.96, 2.05, 1.95, 2.05, 1.95, 2.06,
              1.95, 2.05, 1.95, 2.06, 1.95, 2.05, 1.95, 2.05,
              1.95, 2.05, 1.96, 2.05, 1.96, 2.05, 1.96, 2.04,
              1.96, 2.05, 1.96, 2.04, 1.96, 2.04, 1.97, 2.04,
              1.96, 2.04, 1.97, 2.04, 1.97, 2.03, 1.97, 2.04,
              1.97, 2.03, 1.97, 2.03, 1.97, 2.03, 1.98, 2.00]

C3_M1 = [(1.8, 227), (2.0, 227), (2.005, 190), (2.011, 135), (2.018, 95), (2.028, 56),
         (2.037, 34), (2.046, 20), (2.06, 8.5), (2.073, 4), (2.087, 2), (2.1, 1.5),
         (2.104, 30), (2.109, 110), (2.121, 170), (2.128, 184), (2.138, 210), (2.147, 232.7),
         (2.154, 241), (2.16, 224), (2.17, 211), (2.176, 201), (2.183, 218), (2.197, 232.7),
         (2.213, 244), (2.222, 250), (2.234, 241), (2.248, 230), (2.261, 221), (2.275, 212.7),
         (2.294, 208), (2.312, 205.5), (2.34, 210), (2.385, 212.7), (2.431, 214), (2.477, 215.6),
         (2.569, 218.4), (2.66, 220), (2.752, 222.7), (2.844, 224), (3.0, 225.6)]
C3_M3 = [(1.8, 227), (2.0, 227), (2.005, 195.5), (2.011, 138), (2.018, 98), (2.028, 58),
         (2.037, 35), (2.046, 21), (2.06, 9.4), (2.073, 4.3), (2.087, 2.3), (2.098, 1.4),
         (2.1, 24), (2.107, 81), (2.115, 141), (2.121, 170), (2.128, 190), (2.136, 210),
         (2.144, 215.6), (2.154, 223), (2.16, 224), (2.167, 220), (2.172, 224), (2.183, 218.4),
         (2.197, 212.7), (2.22, 210.4), (2.248, 209), (2.275, 210.4), (2.294, 212.7),
         (2.321, 216), (2.349, 218), (2.385, 217), (2.431, 217), (2.477, 218.4), (2.569, 221),
         (2.66, 224), (2.752, 225.6), (2.844, 226.5), (3.0, 226.5)]

COL_TITLES = [r'$\gamma_{\,mea}$ (degree)', r'$I_{dc}$ (kA)', r'$|U_{lcc}|$ (kV)']
ROW_LABELS = ['Phase A\ngrounding fault', 'Phase AB\ngrounding fault',
              'Three-phase\ngrounding fault']
PANEL_TAGS = [['(a1)', '(a2)', '(a3)'], ['(b1)', '(b2)', '(b3)'], ['(c1)', '(c2)', '(c3)']]
X_TICKS = [1.8, 2.0, 2.2, 2.4, 2.6, 2.8, 3.0]
X_TICK_LABELS = ['1.8', '2', '2.2', '2.4', '2.6', '2.8', '3']
Y_LIMS = [(0, 150), (-0.2, 5), (0, 300)]
Y_TICKS = [[0, 50, 100, 150], [0, 1, 2, 3, 4, 5], [0, 100, 200, 300]]
LEGEND_LABELS = ['Method 1', 'Method 3']

# (method 1, tail 1, method 3, tail 3) per panel
PANELS = [[(A1_M1, A1_M1_TAIL, A1_M3, A1_M3_TAIL), (A2_M1, A2_M1_TAIL, A2_M3, A2_M3_TAIL),
           (A3_M1, None, A3_M3, None)],
          [(B1_M1, B1_M1_TAIL, B1_M3, B1_M3_TAIL), (B2_M1, B2_M1_TAIL, B2_M3, B2_M3_TAIL),
           (B3_M1, None, B3_M3, None)],
          [(C1_M1, C1_M1_TAIL, C1_M3, C1_M3_TAIL), (C2_M1, C2_M1_TAIL, C2_M3, C2_M3_TAIL),
           (C3_M1, None, C3_M3, None)]]

# =============================================================================
# STYLE
# =============================================================================
C_M1 = '#FA9962'
C_M3 = '#0072BD'
AX_COLOR = '#262626'
SERIF = 'Liberation Serif'

plt.rcParams['font.family'] = ['Liberation Sans', 'DejaVu Sans']
plt.rcParams['mathtext.fontset'] = 'custom'
plt.rcParams['mathtext.rm'] = SERIF
plt.rcParams['mathtext.it'] = SERIF + ':italic'
plt.rcParams['mathtext.bf'] = SERIF + ':bold'

W, H = 3259, 1987
COLS_PX = [(218, 1142), (1230, 2154), (2265, 3190)]
ROWS_PX = [(191, 658), (790, 1257), (1394, 1860)]
TITLE_X = [0.554, 0.477, 0.482]
BIG = 42
TICK_FS = 24.5


def series(points, tail):
    t = [p[0] for p in points]
    y = [p[1] for p in points]
    if tail is not None:
        assert len(tail) == len(T_TAIL)
        t = t + T_TAIL
        y = y + tail
    return np.array(t), np.array(y)


fig = plt.figure(figsize=(W / 100, H / 100), dpi=100)
handles = None

for r, (y0, y1) in enumerate(ROWS_PX):
    for c, (x0, x1) in enumerate(COLS_PX):
        ax = fig.add_axes([x0 / W, 1 - y1 / H, (x1 - x0) / W, (y1 - y0) / H])
        m1, m1_tail, m3, m3_tail = PANELS[r][c]
        t1, v1 = series(m1, m1_tail)
        t3, v3 = series(m3, m3_tail)
        l1, = ax.plot(t1, v1, color=C_M1, lw=5.5, ls='--', dashes=(4, 2),
                      label=LEGEND_LABELS[0])
        l3, = ax.plot(t3, v3, color=C_M3, lw=4.0, label=LEGEND_LABELS[1])
        if handles is None:
            handles = [l1, l3]

        ax.set_xlim(1.8, 3.0)
        ax.set_ylim(*Y_LIMS[c])
        ax.set_xticks(X_TICKS)
        ax.set_xticklabels(X_TICK_LABELS)
        ax.set_yticks(Y_TICKS[c])
        ax.set_yticklabels([str(v) for v in Y_TICKS[c]])
        ax.tick_params(direction='in', length=7, width=2.0, top=True, right=True,
                       labelsize=TICK_FS, colors=AX_COLOR)
        ax.tick_params(axis='x', pad=12)
        ax.tick_params(axis='y', pad=11)
        for sp in ax.spines.values():
            sp.set_linewidth(2.2)
            sp.set_color(AX_COLOR)

        ax.set_xlabel(PANEL_TAGS[r][c] + ' Times (s)', family=SERIF, fontsize=BIG,
                      va='center')
        ax.xaxis.set_label_coords(0.47, -0.172)
        if r == 0:
            ax.set_title(COL_TITLES[c], family=SERIF, fontsize=BIG, x=TITLE_X[c],
                         y=1.094, va='center')

    yc = (y0 + y1) / 2 + 11
    fig.text(82 / W, 1 - yc / H, ROW_LABELS[r], family=SERIF, fontsize=BIG,
             rotation=90, ha='center', va='center', multialignment='center',
             linespacing=1.22)

fig.legend(handles=handles, labels=LEGEND_LABELS, loc='center',
           bbox_to_anchor=(1561 / W, 1 - 53 / H), ncol=2, frameon=False,
           prop={'family': SERIF, 'size': BIG}, handlelength=3.8,
           handletextpad=0.0, columnspacing=7.2, borderpad=0)

fig.savefig('out.png', dpi=100, facecolor='white')
